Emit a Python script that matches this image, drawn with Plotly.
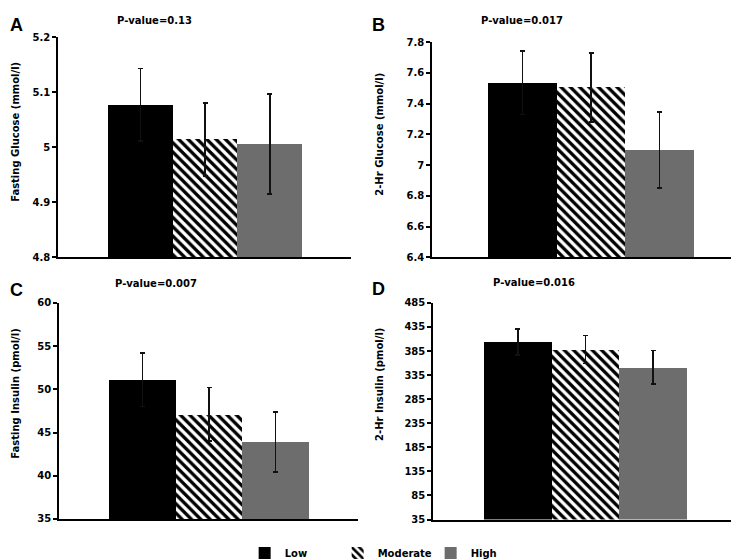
import plotly.graph_objects as go

# ------------------------------------------------------------
# data (mean +/- SE per activity group)
# ------------------------------------------------------------
groups = ["Low", "Moderate", "High"]
group_pos = [1, 2, 3]

fasting_glucose = [5.077, 5.014, 5.006]
fasting_glucose_err = [0.066, 0.066, 0.091]

glucose_2hr = [7.535, 7.505, 7.098]
glucose_2hr_err = [0.206, 0.223, 0.246]

fasting_insulin = [51.1, 47.1, 43.9]
fasting_insulin_err = [3.1, 3.1, 3.5]

insulin_2hr = [404, 388, 351]
insulin_2hr_err = [27, 29, 35]

# tick labels of each panel
ticks_a = [4.8, 4.9, 5.0, 5.1, 5.2]
ticks_a_text = ["4.8", "4.9", "5", "5.1", "5.2"]
ticks_b = [6.4, 6.6, 6.8, 7.0, 7.2, 7.4, 7.6, 7.8]
ticks_b_text = ["6.4", "6.6", "6.8", "7", "7.2", "7.4", "7.6", "7.8"]
ticks_c = [35, 40, 45, 50, 55, 60]
ticks_d = [35, 85, 135, 185, 235, 285, 335, 385, 435, 485]

p_values = ["P-value=0.13", "P-value=0.017", "P-value=0.007", "P-value=0.016"]
panel_letters = ["A", "B", "C", "D"]
y_titles = ["Fasting Glucose (mmol/l)", "2-Hr Glucose (mmol/l)",
            "Fasting Insulin (pmol/l)", "2-Hr Insulin (pmol/l)"]

# ------------------------------------------------------------
# styling / layout (pixel measurements of a 739x560 page)
# ------------------------------------------------------------
W, H = 739, 560
FONT = "DejaVu Sans"
GRAY = "#6d6d6d"


def px_x(v):
    return v / W


def px_y(v):
    return 1 - v / H


def bold(labels):
    return ["<b>%s</b>" % s for s in labels]


panels = [
    dict(vals=fasting_glucose, errs=fasting_glucose_err, xd=(50, 343), yd=(24, 252),
         xr=[-0.273, 4.257], yr=[4.8, 5.2], tv=ticks_a, tt=ticks_a_text),
    dict(vals=glucose_2hr, errs=glucose_2hr_err, xd=(424, 735), yd=(29, 252),
         xr=[-0.315, 4.213], yr=[6.4, 7.8], tv=ticks_b, tt=ticks_b_text),
    dict(vals=fasting_insulin, errs=fasting_insulin_err, xd=(51, 350), yd=(299, 522.7),
         xr=[-0.25, 4.235], yr=[35, 60], tv=ticks_c, tt=[str(t) for t in ticks_c]),
    dict(vals=insulin_2hr, errs=insulin_2hr_err, xd=(425, 730), yd=(299, 523.3),
         xr=[-0.253, 4.253], yr=[35, 485], tv=ticks_d, tt=[str(t) for t in ticks_d]),
]

# label positions (px)
title_pos = [(146.5, 6.5), (514, 7), (148, 278.5), (526, 278)]
letter_pos = [(8.5, 11), (370, 11), (8.5, 285.5), (370.5, 285)]
ytitle_pos = [(8, 122), (372, 125), (8, 393), (372, 384)]

fig = go.Figure()
layout_axes = {}
annotations = []

for k, p in enumerate(panels):
    sfx = "" if k == 0 else str(k + 1)
    xa, ya = "x" + sfx, "y" + sfx

    for i, g in enumerate(groups):
        if g == "Moderate":
            marker = dict(color="white", line=dict(width=0),
                          pattern=dict(shape="\\", size=6.6, solidity=0.5,
                                       fgcolor="black", bgcolor="white", fgopacity=1))
        else:
            marker = dict(color="black" if g == "Low" else GRAY, line=dict(width=0))
        fig.add_trace(go.Bar(
            x=[group_pos[i]], y=[p["vals"][i]], width=1,
            name="<b>%s</b>" % g, legendgroup=g, showlegend=(k == 0),
            marker=marker,
            error_y=dict(type="data", array=[p["errs"][i]], visible=True,
                         color="#111111", thickness=1.6, width=2.5),
            xaxis=xa, yaxis=ya,
        ))

    layout_axes["xaxis" + sfx] = dict(
        domain=[px_x(p["xd"][0]), px_x(p["xd"][1])], range=p["xr"],
        anchor=ya, showline=True, linecolor="black", linewidth=1.5,
        showticklabels=False, ticks="", showgrid=False, zeroline=False,
    )
    layout_axes["yaxis" + sfx] = dict(
        domain=[px_y(p["yd"][1]), px_y(p["yd"][0])], range=p["yr"],
        anchor=xa, showline=True, linecolor="black", linewidth=1.5,
        ticks="outside", ticklen=4, tickwidth=1.5, tickcolor="black",
        tickmode="array", tickvals=p["tv"], ticktext=bold(p["tt"]),
        showgrid=False, zeroline=False,
        tickfont=dict(family=FONT, size=10, color="black"),
    )

    annotations.append(dict(
        text="<b>%s</b>" % p_values[k], x=px_x(title_pos[k][0]), y=px_y(title_pos[k][1]),
        xref="paper", yref="paper", showarrow=False,
        xanchor="center", yanchor="middle",
        font=dict(family=FONT, size=10, color="black"),
    ))
    annotations.append(dict(
        text="<b>%s</b>" % panel_letters[k], x=px_x(letter_pos[k][0]), y=px_y(letter_pos[k][1]),
        xref="paper", yref="paper", showarrow=False,
        xanchor="center", yanchor="middle",
        font=dict(family="Liberation Sans", size=18, color="black"),
    ))
    annotations.append(dict(
        text="<b>%s</b>" % y_titles[k], x=px_x(ytitle_pos[k][0]), y=px_y(ytitle_pos[k][1]),
        xref="paper", yref="paper", showarrow=False, textangle=-90,
        xanchor="center", yanchor="middle",
        font=dict(family=FONT, size=10, color="black"),
    ))

fig.update_layout(
    width=W, height=H,
    margin=dict(l=0, r=0, t=0, b=0),
    paper_bgcolor="white", plot_bgcolor="white",
    barmode="overlay", bargap=0,
    annotations=annotations,
    legend=dict(
        orientation="h", x=0.509, xanchor="center",
        y=px_y(543), yanchor="top",
        font=dict(family=FONT, size=10, color="black"),
        itemwidth=30, entrywidth=48, bgcolor="rgba(0,0,0,0)",
    ),
    **layout_axes,
)

fig.write_html("out.html")
